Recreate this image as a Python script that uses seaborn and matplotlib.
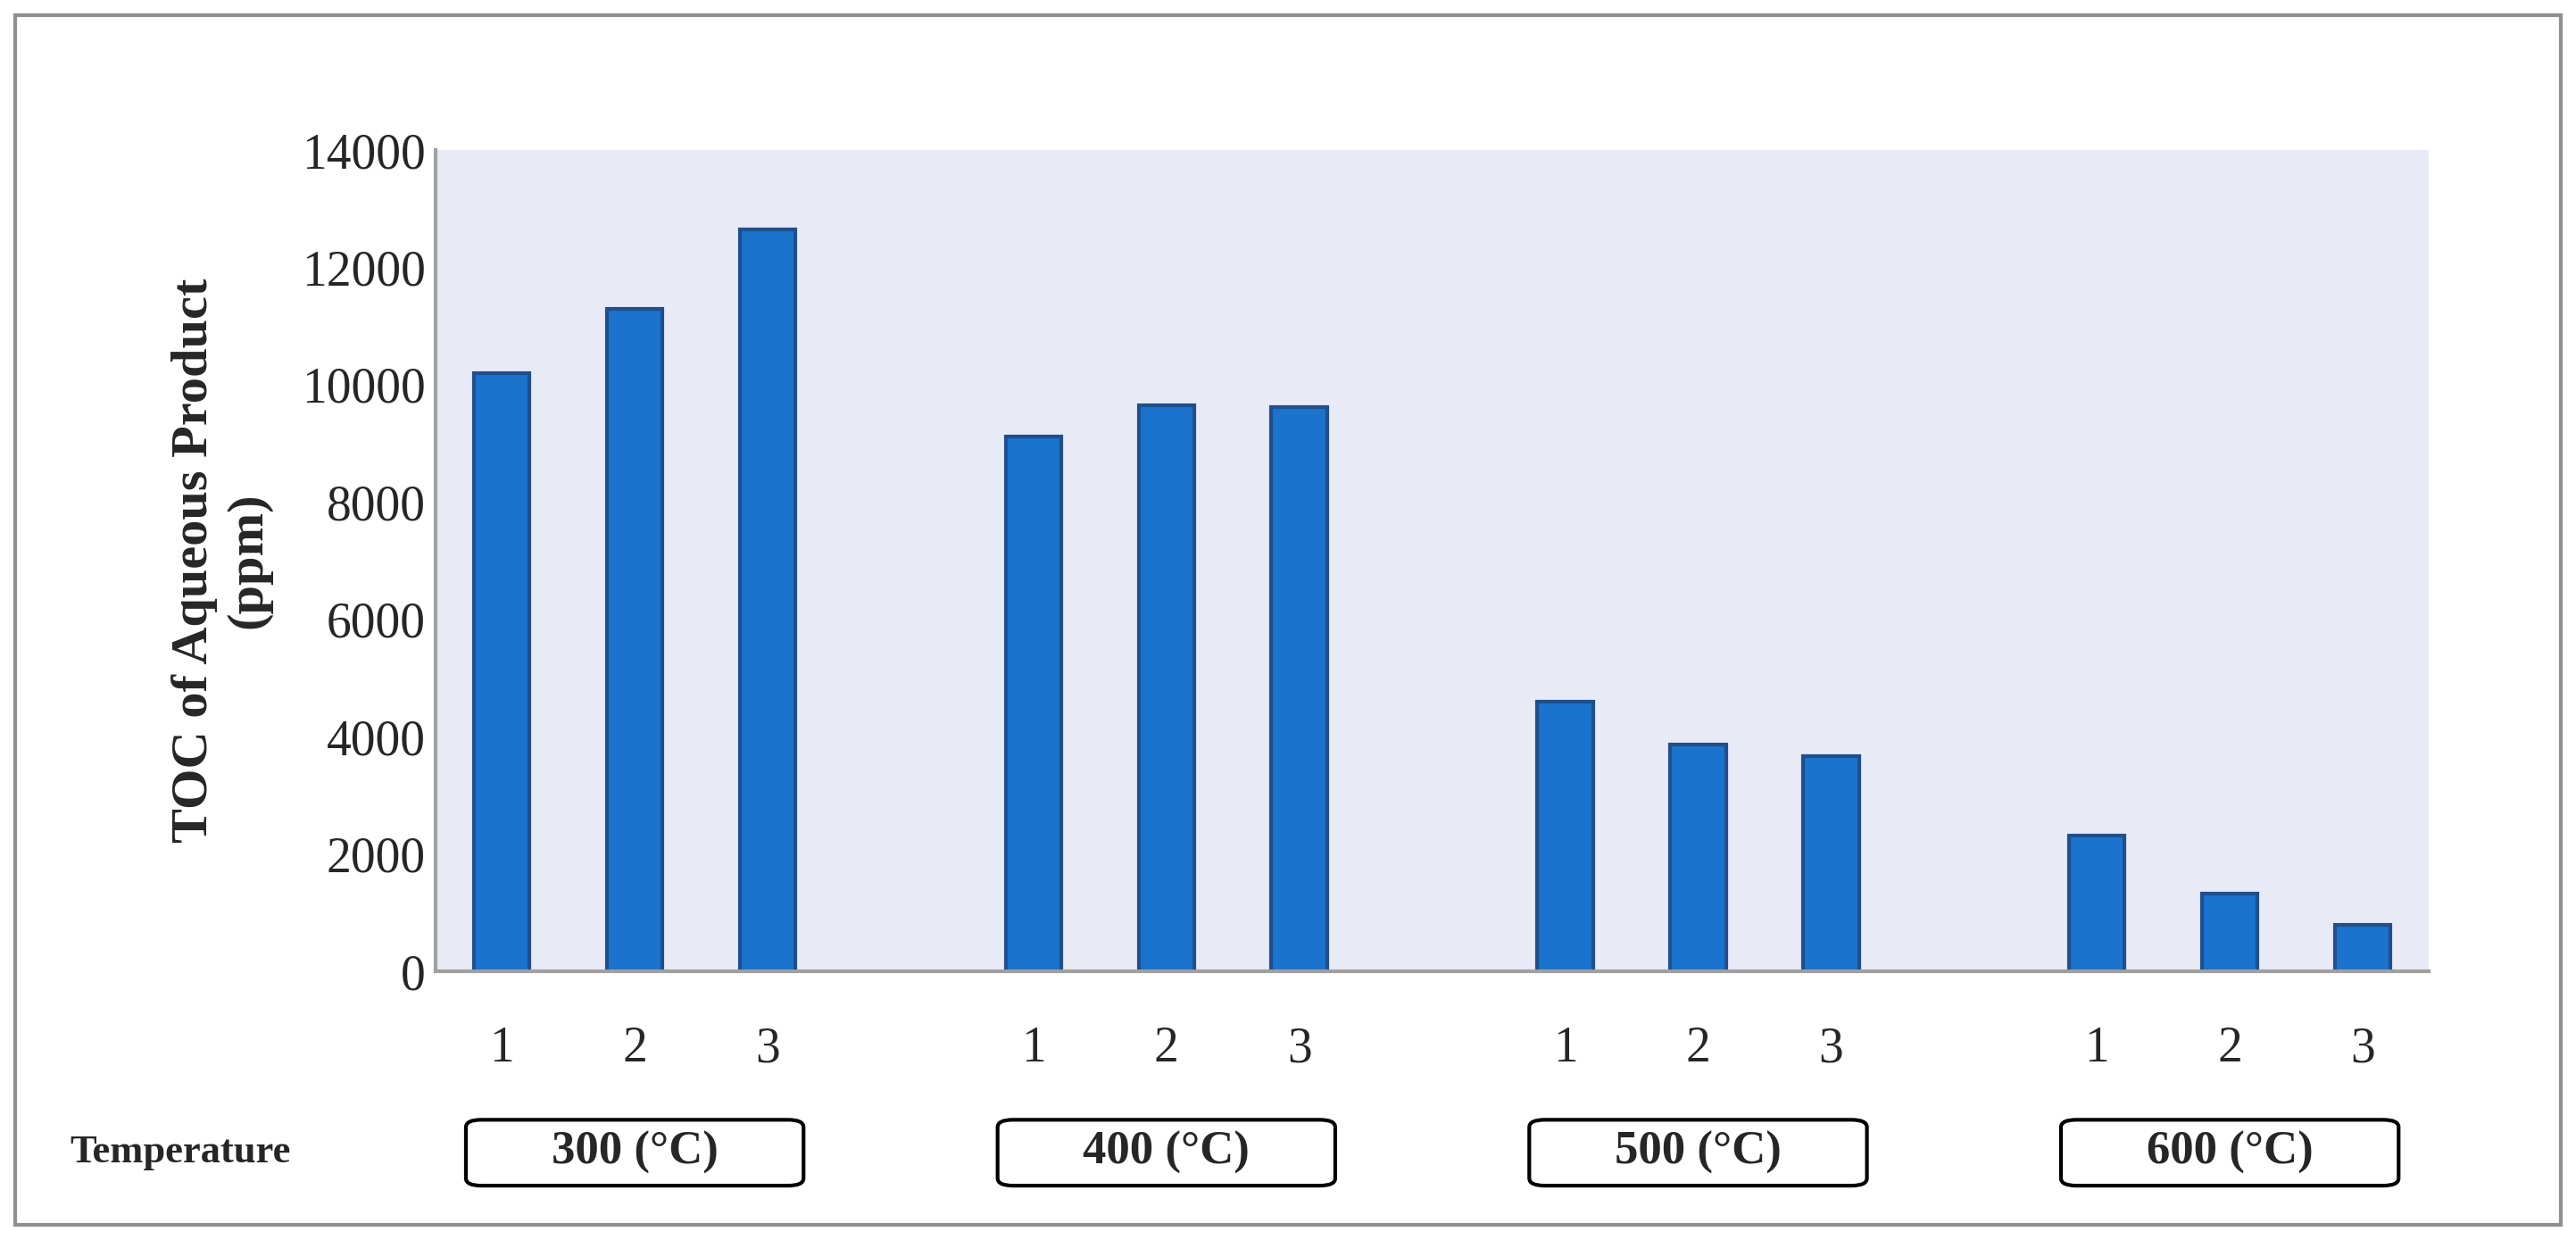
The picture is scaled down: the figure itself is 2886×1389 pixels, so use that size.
import matplotlib
matplotlib.use("Agg")
import matplotlib.pyplot as plt
import seaborn as sns
import pandas as pd
from matplotlib.patches import FancyBboxPatch, Rectangle

groups = ["300 (°C)", "400 (°C)", "500 (°C)", "600 (°C)"]
runs = ["1", "2", "3"]
toc_300 = [10200, 11300, 12650]
toc_400 = [9120, 9650, 9620]
toc_500 = [4600, 3870, 3670]
toc_600 = [2320, 1330, 800]

vals = [toc_300, toc_400, toc_500, toc_600]
rows = []
for gi, g in enumerate(groups):
    for ri, r in enumerate(runs):
        rows.append({"pos": gi * 4 + ri, "run": r, "group": g, "toc": vals[gi][ri]})
df = pd.DataFrame(rows)

sns.set_theme(style="white")
plt.rcParams["font.family"] = ["Liberation Serif", "DejaVu Serif"]

fig = plt.figure(figsize=(14.43, 6.945), dpi=200)
ax = fig.add_axes([0.169, 0.2165, 0.774, 0.6625])
ax.set_facecolor("#E8EAF6")
sns.barplot(data=df, x="pos", y="toc", native_scale=True, width=0.42,
            color="#1A73CC", edgecolor="#1F4F8C", linewidth=1.5,
            saturation=1, ax=ax)
ax.set_xlim(-0.5, 14.5)
ax.set_ylim(0, 14000)
ax.set_yticks(range(0, 14001, 2000))
ax.set_xticks(df["pos"])
ax.set_xticklabels(df["run"])
ax.tick_params(axis="x", length=0, pad=22, labelsize=20)
ax.tick_params(axis="y", length=0, pad=4, labelsize=20)
for s in ["top", "right"]:
    ax.spines[s].set_visible(False)
for s in ["left", "bottom"]:
    ax.spines[s].set_color("#A0A0A0")
    ax.spines[s].set_linewidth(1.5)
ax.set_xlabel("")
ax.set_ylabel("TOC of Aqueous Product\n(ppm)", fontsize=21, fontweight="bold", labelpad=12)

# group boxes
for gi, g in enumerate(groups):
    xc = gi * 4 + 1
    xf = fig.transFigure.inverted().transform(ax.transData.transform((xc, 0)))[0]
    w = 205 / 1564
    h = 40 / 753
    yc = 1 - 700 / 753
    fig.patches.append(FancyBboxPatch((xf - w / 2, yc - h / 2), w, h,
                                      boxstyle="round,pad=0,rounding_size=0.006",
                                      transform=fig.transFigure, fill=False,
                                      edgecolor="black", linewidth=1.5))
    fig.text(xf, yc, g, ha="center", va="center", fontsize=19, fontweight="bold")
fig.text(0.027, 1 - 700 / 753, "Temperature", ha="left", va="center",
         fontsize=16, fontweight="bold")

fig.patches.append(Rectangle((0.006, 0.012), 0.988, 0.976, transform=fig.transFigure,
                             fill=False, edgecolor="#909090", linewidth=1.5))

fig.savefig("out.png", dpi=200, facecolor="white")
